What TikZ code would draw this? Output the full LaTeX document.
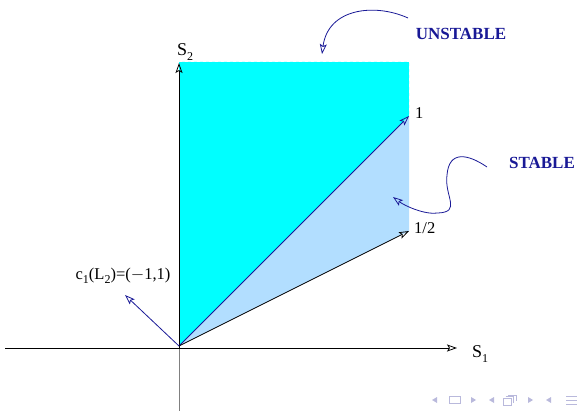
\documentclass[tikz,border=0pt]{standalone}
\usepackage{fontspec}
\setmainfont{Liberation Serif}
\usetikzlibrary{arrows.meta}
\definecolor{fillcyan}{RGB}{0,255,255}
\definecolor{lightreg}{RGB}{178,222,255}
\definecolor{darkblue}{RGB}{25,25,150}
\definecolor{navgray}{RGB}{185,185,220}
\newcommand{\lowsub}[2]{\raisebox{#1}{\fontsize{12}{12}\selectfont #2}}
\begin{document}
\begin{tikzpicture}[x=1pt,y=-1pt,
  tip/.style={-{Stealth[open,length=10pt,width=7pt,inset=2pt]}},
  lab/.style={inner sep=0pt,font=\fontsize{16.5}{16.5}\selectfont},
  slab/.style={inner sep=0pt,font=\fontsize{18}{18}\selectfont},
  blab/.style={inner sep=0pt,text=darkblue,font=\fontsize{17}{17}\selectfont\bfseries},
  curvearrow/.style={darkblue,line width=0.8pt,-{Stealth[open,length=10pt,width=7pt,inset=2pt]}},
  navsym/.style={navgray,line width=0.8pt}]
\useasboundingbox (0,0) rectangle (577,411);
\coordinate (O) at (179,346);
\coordinate (TL) at (179,62);
\coordinate (TR) at (409,62);
\coordinate (P1) at (409,116);
\coordinate (P2) at (409,231);
\coordinate (XL) at (5,348);
\coordinate (XR) at (457,348);
\coordinate (YB) at (179,411);
\coordinate (YM) at (179,348);
\coordinate (YT) at (179,63);
\coordinate (C1) at (125,295);
% regions
\fill[fillcyan] (O) -- (TL) -- (TR) -- (P1) -- cycle;
\fill[lightreg] (O) -- (P1) -- (P2) -- cycle;
\draw[white,dashed,line width=1pt] (TL) -- (TR) -- (P1);
% axes
\draw[gray,line width=0.8pt] (YB) -- (YM);
\draw[black,line width=0.8pt,tip] (YM) -- (YT);
\draw[black,line width=0.8pt,tip] (XL) -- (XR);
% rays
\draw[darkblue,line width=0.8pt,tip] (O) -- (P1);
\draw[black,line width=0.8pt,tip] (O) -- (P2);
\draw[darkblue,line width=0.8pt,tip] (O) -- (C1);
% labels
\node[slab,anchor=base west] (s2) at (177,56) {S\lowsub{-5pt}{2}};
\node[slab,anchor=base west] (s1) at (472,357) {S\lowsub{-5pt}{1}};
\node[lab,anchor=base west] (one) at (415,119) {1};
\node[lab,anchor=base west] (half) at (414,234) {1/2};
\node[lab,anchor=base] (c1) at (123,279) {c\lowsub{-4pt}{1}(L\lowsub{-4pt}{2})=($-$1,1)};
\node[blab] (unst) at (461,34) {UNSTABLE};
\node[blab] (st) at (542,163) {STABLE};
% curved arrows
\coordinate (U0) at (408,18);
\coordinate (U1) at (322,54);
\draw[curvearrow] (U0) .. controls (375,3) and (328,8) .. (U1);
\coordinate (S0) at (487,167);
\coordinate (Sa) at (447,175);
\coordinate (Sb) at (438,213);
\coordinate (S1) at (393,197);
\draw[curvearrow] (S0) .. controls (468,154) and (449,150) .. (Sa)
  .. controls (444,196) and (462,212) .. (Sb)
  .. controls (425,215) and (405,206) .. (S1);
% beamer navigation symbols
\fill[navgray] (432,400) -- (437,397) -- (437,403) -- cycle;
\draw[navsym] (449,396.5) rectangle (460,403.5);
\fill[navgray] (476,400) -- (471,397) -- (471,403) -- cycle;
\fill[navgray] (489,400) -- (494,397) -- (494,403) -- cycle;
\draw[navsym] (503,398) rectangle (511,405);
\draw[navsym] (505.5,396.5) -- (513.5,396.5) -- (513.5,402.5);
\draw[navsym] (508,395) -- (516,395) -- (516,401);
\fill[navgray] (533,400) -- (528,397) -- (528,403) -- cycle;
\fill[navgray] (546,400) -- (551,397) -- (551,403) -- cycle;
\draw[navsym] (566,396) -- (577,396) (566,400) -- (577,400) (566,404) -- (577,404);
\end{tikzpicture}
\end{document}
